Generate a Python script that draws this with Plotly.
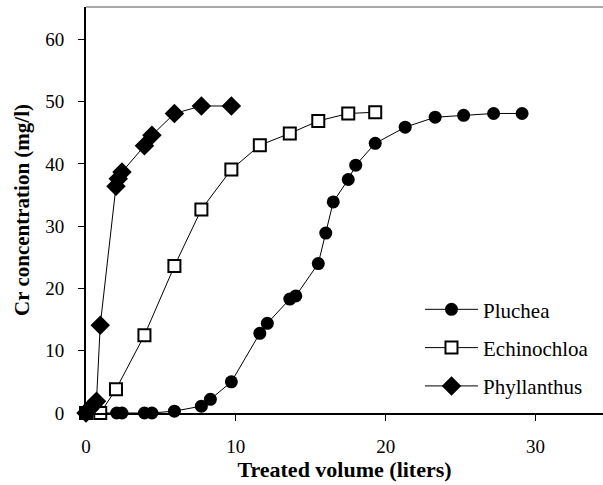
import plotly.graph_objects as go

# Breakthrough curves: Cr concentration in effluent vs. treated volume
pluchea_x = [0, 2.05, 2.4, 3.9, 4.4, 5.9, 7.7, 8.3, 9.7, 11.6, 12.1, 13.6, 14.0,
             15.5, 16.0, 16.5, 17.5, 18.0, 19.3, 21.3, 23.3, 25.2, 27.2, 29.1]
pluchea_y = [0, 0, 0, 0, 0, 0.3, 1.1, 2.2, 5.0, 12.8, 14.4, 18.3, 18.8,
             24.0, 28.9, 33.9, 37.5, 39.8, 43.3, 45.9, 47.5, 47.8, 48.1, 48.1]

echinochloa_x = [0, 0.95, 2.0, 3.9, 5.9, 7.7, 9.7, 11.6, 13.6, 15.5, 17.5, 19.3]
echinochloa_y = [0, 0, 3.8, 12.5, 23.6, 32.7, 39.1, 43.0, 44.9, 46.9, 48.1, 48.3]

phyllanthus_x = [0, 0.2, 0.45, 0.7, 0.95, 2.0, 2.15, 2.4, 3.9, 4.4, 5.9, 7.7, 9.7]
phyllanthus_y = [0, 0.6, 1.2, 1.9, 14.1, 36.4, 37.6, 38.7, 42.9, 44.6, 48.1, 49.3, 49.3]

x_ticks = [0, 10, 20, 30]
y_ticks = [0, 10, 20, 30, 40, 50, 60]

FONT = "Liberation Serif"
line_style = dict(color="black", width=1)

fig = go.Figure()
fig.add_trace(go.Scatter(
    x=pluchea_x, y=pluchea_y, name="Pluchea", mode="lines+markers",
    line=line_style, legendgroup="a",
    marker=dict(symbol="circle", size=13, color="black"),
    cliponaxis=False,
))
fig.add_trace(go.Scatter(
    x=echinochloa_x, y=echinochloa_y, name="Echinochloa", mode="lines+markers",
    line=line_style, legendgroup="b",
    marker=dict(symbol="square", size=12, color="white",
                line=dict(color="black", width=2)),
    cliponaxis=False,
))
fig.add_trace(go.Scatter(
    x=phyllanthus_x, y=phyllanthus_y, name="Phyllanthus", mode="lines+markers",
    line=line_style, legendgroup="c",
    marker=dict(symbol="diamond", size=15, color="black"),
    cliponaxis=False,
))

fig.update_layout(
    width=603, height=485,
    margin=dict(l=86, r=0, t=7, b=72),
    paper_bgcolor="white", plot_bgcolor="white",
    font=dict(family=FONT, color="black", size=18),
    showlegend=True,
    legend=dict(
        x=0.646, y=0.305, xanchor="left", yanchor="top",
        font=dict(family=FONT, size=21, color="black"),
        bgcolor="rgba(0,0,0,0)", itemwidth=53, tracegroupgap=8,
    ),
    xaxis=dict(
        range=[0, 34.5], tickvals=x_ticks, ticks="outside", ticklen=6,
        tickcolor="black", showline=True, linecolor="black", linewidth=1.5,
        mirror=False, showgrid=False, zeroline=False,
        tickfont=dict(family=FONT, size=19), ticklabelstandoff=9,
        title=dict(text="<b>Treated volume (liters)</b>",
                   font=dict(family=FONT, size=22), standoff=4),
    ),
    yaxis=dict(
        range=[0, 65.2], tickvals=y_ticks, ticks="outside", ticklen=6,
        tickcolor="black", showline=True, linecolor="black", linewidth=2,
        showgrid=False, zeroline=False,
        tickfont=dict(family=FONT, size=19), ticklabelstandoff=10,
        title=dict(text="<b>Cr concentration (mg/l)</b>",
                   font=dict(family=FONT, size=21), standoff=10),
    ),
)

# thin frame line along the top of the plotting area
fig.add_shape(type="line", xref="paper", yref="paper", x0=0, x1=1, y0=1, y1=1,
              line=dict(color="#555555", width=1))

fig.write_html("out.html")
